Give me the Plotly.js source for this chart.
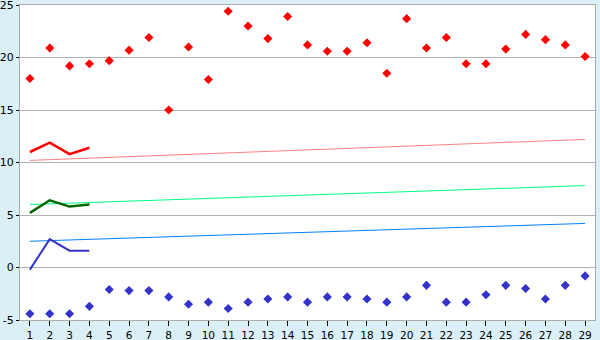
<!DOCTYPE html>
<html>
<head>
<meta charset="utf-8">
<script src="https://cdn.plot.ly/plotly-3.0.1.min.js"></script>
<style>html,body{margin:0;padding:0;background:#daeff6;}#chart{width:600px;height:340px;}</style>
</head>
<body>
<div id="chart"></div>
<script>
const days = Array.from({length: 29}, (_, i) => i + 1);
const redPoints = [18.0, 20.9, 19.2, 19.4, 19.7, 20.7, 21.9, 15.0, 21.0, 17.9, 24.4, 23.0, 21.8, 23.9, 21.2, 20.6, 20.6, 21.4, 18.5, 23.7, 20.9, 21.9, 19.4, 19.4, 20.8, 22.2, 21.7, 21.2, 20.1];
const bluePoints = [-4.4, -4.4, -4.4, -3.7, -2.1, -2.2, -2.2, -2.8, -3.5, -3.3, -3.9, -3.3, -3.0, -2.8, -3.3, -2.8, -2.8, -3.0, -3.3, -2.8, -1.7, -3.3, -3.3, -2.6, -1.7, -2.0, -3.0, -1.7, -0.8];
const lineDays = [1, 2, 3, 4];
const redLine = [11.0, 11.9, 10.8, 11.4];
const greenLine = [5.2, 6.4, 5.8, 6.0];
const blueLine = [-0.2, 2.7, 1.6, 1.6];
const trendDays = [1, 29];
const redTrend = [10.2, 12.2];
const greenTrend = [6.0, 7.8];
const blueTrend = [2.5, 4.2];
const yTicks = [-5, 0, 5, 10, 15, 20, 25];
const yTickText = ['-5', '0', '5', '10', '15', '20', '25'];

const traces = [
  {x: trendDays, y: redTrend, mode: 'lines', line: {color: '#ff8080', width: 1}},
  {x: trendDays, y: greenTrend, mode: 'lines', line: {color: '#00ff80', width: 1}},
  {x: trendDays, y: blueTrend, mode: 'lines', line: {color: '#0080ff', width: 1}},
  {x: lineDays, y: redLine, mode: 'lines', line: {color: '#ff0000', width: 2.5}},
  {x: lineDays, y: greenLine, mode: 'lines', line: {color: '#006600', width: 2.5}},
  {x: lineDays, y: blueLine, mode: 'lines', line: {color: '#3333cc', width: 2}},
  {x: days, y: redPoints, mode: 'markers', marker: {symbol: 'diamond', size: 7, color: '#ff0000'}},
  {x: days, y: bluePoints, mode: 'markers', marker: {symbol: 'diamond', size: 7, color: '#3333cc'}}
];

const layout = {
  width: 600, height: 340,
  margin: {l: 20, r: 5, t: 5, b: 20},
  paper_bgcolor: '#daeff6',
  plot_bgcolor: '#ffffff',
  showlegend: false,
  font: {family: 'DejaVu Sans, sans-serif', size: 11, color: '#000'},
  xaxis: {
    range: [0.5, 29.5], tickvals: days, ticktext: days.map(String),
    showgrid: false, zeroline: false,
    showline: true, mirror: true, linecolor: '#aaaaaa', linewidth: 1,
    ticks: 'outside', ticklen: 5, tickcolor: '#000', tickfont: {size: 10.5},
    ticklabeloverflow: 'allow', automargin: false
  },
  yaxis: {
    range: [-5, 25], tickvals: yTicks, ticktext: yTickText,
    showgrid: true, gridcolor: '#b0b0b0', gridwidth: 1, zeroline: false,
    showline: true, mirror: true, linecolor: '#aaaaaa', linewidth: 1,
    ticks: 'outside', ticklen: 3, tickcolor: '#000', tickfont: {size: 11},
    ticklabeloverflow: 'allow', automargin: false
  }
};

Plotly.newPlot('chart', traces, layout, {displayModeBar: false, staticPlot: true});
</script>
</body>
</html>
